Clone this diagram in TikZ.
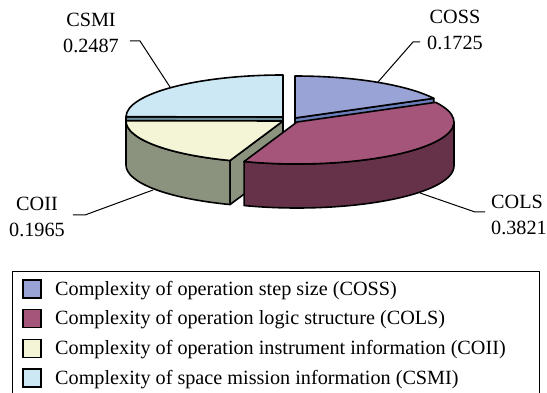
\documentclass[tikz,border=0pt]{standalone}
\usepackage{fontspec}
\setmainfont{Liberation Serif}
\usetikzlibrary{calc}

% slice colours: top faces and darker side faces
\definecolor{cossTop}{HTML}{9AA3D6}
\definecolor{cossSide}{HTML}{6A7DB8}
\definecolor{colsTop}{HTML}{A45579}
\definecolor{colsSide}{HTML}{653249}
\definecolor{coiiTop}{HTML}{F4F4D6}
\definecolor{coiiSide}{HTML}{8B927E}
\definecolor{csmiTop}{HTML}{CBE8F4}
\definecolor{csmiSide}{HTML}{6E8E99}

\begin{document}
% pie radii 157 x 42, thickness 44
\begin{tikzpicture}[x=1pt,y=1pt,
  slice/.style={draw=black, line width=1.6pt, line join=round},
  pie/.style={x radius=157, y radius=42},
  leader/.style={draw=black, line width=1pt},
  lbl/.style={font=\fontsize{20.2}{26}\selectfont, align=center, inner sep=0pt, anchor=north},
  legtext/.style={font=\fontsize{20.2}{26}\selectfont, anchor=base west, inner sep=0pt},
  legkey/.style={draw=black, line width=1.5pt, minimum size=18pt, inner sep=0pt},
  legbox/.style={draw=black, line width=1pt, anchor=north west, inner sep=0pt,
                 minimum width=527pt, minimum height=140pt}]
\useasboundingbox (0,0) rectangle (547,-393);

% exploded slice centres
\coordinate (c1) at (295,-118); % COSS
\coordinate (c2) at (297,-122); % COLS
\coordinate (c3) at (283,-121); % COII
\coordinate (c4) at (283,-117); % CSMI

% ---- CSMI (90 -> 179.6 deg) ----
\filldraw[slice, fill=csmiSide] (c4) -- ($(c4)+(179.6:157 and 42)$)
  -- ++(0,-44) -- ($(c4)+(0,-44)$) -- cycle;
\filldraw[slice, fill=csmiTop] (c4) -- ($(c4)+(90:157 and 42)$)
  arc[pie, start angle=90, end angle=179.6] -- cycle;

% ---- COSS (27.9 -> 90 deg) ----
\filldraw[slice, fill=cossSide] (c1) -- ($(c1)+(27.9:157 and 42)$)
  -- ++(0,-44) -- ($(c1)+(0,-44)$) -- cycle;
\filldraw[slice, fill=cossTop] (c1) -- ($(c1)+(90:157 and 42)$)
  arc[pie, start angle=90, end angle=27.9] -- cycle;

% ---- COII (179.6 -> 250.3 deg) ----
\filldraw[slice, fill=coiiSide] ($(c3)+(180:157 and 42)$)
  arc[pie, start angle=180, end angle=250.3]
  -- ++(0,-44)
  arc[pie, start angle=250.3, end angle=180] -- cycle;
\filldraw[slice, fill=coiiSide] (c3) -- ($(c3)+(250.3:157 and 42)$)
  -- ++(0,-44) -- ($(c3)+(0,-44)$) -- cycle;
\filldraw[slice, fill=coiiTop] (c3) -- ($(c3)+(179.6:157 and 42)$)
  arc[pie, start angle=179.6, end angle=250.3] -- cycle;

% ---- COLS (250.3 -> 387.9 deg) ----
\filldraw[slice, fill=colsSide] ($(c2)+(250.3:157 and 42)$)
  arc[pie, start angle=250.3, end angle=360]
  -- ++(0,-44)
  arc[pie, start angle=360, end angle=250.3] -- cycle;
\filldraw[slice, fill=colsTop] (c2) -- ($(c2)+(250.3:157 and 42)$)
  arc[pie, start angle=250.3, end angle=387.9] -- cycle;

% ---- data labels ----
\node[lbl] (lcsmi) at (91,-13) {CSMI\\0.2487};
\node[lbl] (lcoss) at (455,-10) {COSS\\0.1725};
\node[lbl] (lcoii) at (37,-197) {COII\\0.1965};
\node[lbl, align=left, anchor=north west] (lcols) at (491,-195) {COLS\\0.3821};

% leader knees and slice anchor points
\coordinate (k4) at (140,-41);  \coordinate (e4) at (170,-87);
\coordinate (k1) at (413,-42);  \coordinate (e1) at (378,-82);
\coordinate (k3) at (85,-215);  \coordinate (e3) at (153,-190);
\coordinate (k2) at (475,-212); \coordinate (e2) at (420,-193);

\draw[leader] ([xshift=11pt]lcsmi.east |- k4) -- (k4) -- (e4);
\draw[leader] ([xshift=-7pt]lcoss.west |- k1) -- (k1) -- (e1);
\draw[leader] ([xshift=8pt]lcoii.east |- k3) -- (k3) -- (e3);
\draw[leader] ([xshift=-6pt]lcols.west |- k2) -- (k2) -- (e2);

% ---- legend ----
\node[legbox] (legend) at (12,-271) {};
\node[legkey, fill=cossTop] (key1) at (32,-289) {};
\node[legkey, fill=colsTop] (key2) at (32,-318.7) {};
\node[legkey, fill=coiiTop] (key3) at (32,-348.4) {};
\node[legkey, fill=csmiTop] (key4) at (32,-378) {};
\node[legtext] (txt1) at (55,-295) {Complexity of operation step size (COSS)};
\node[legtext] (txt2) at (55,-324.7) {Complexity of operation logic structure (COLS)};
\node[legtext] (txt3) at (55,-354.4) {Complexity of operation instrument information (COII)};
\node[legtext] (txt4) at (55,-384) {Complexity of space mission information (CSMI)};
\end{tikzpicture}
\end{document}
